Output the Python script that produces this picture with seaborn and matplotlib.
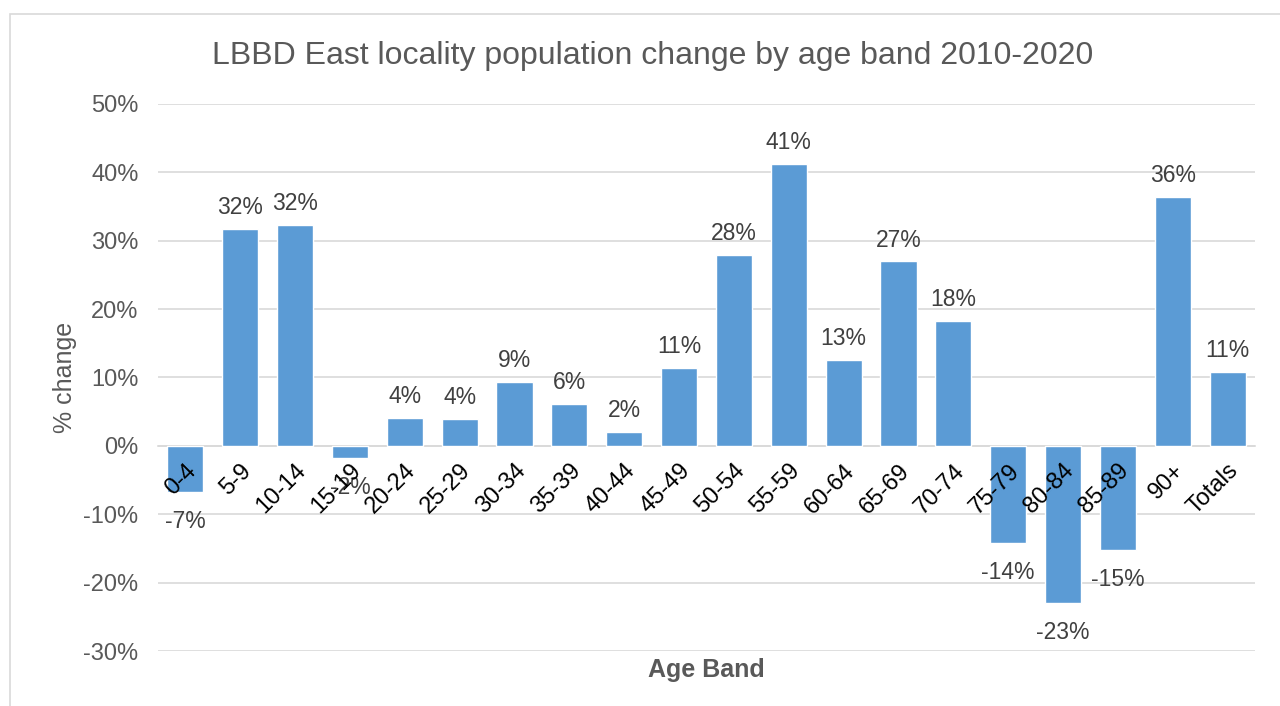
import matplotlib
matplotlib.use("Agg")
import matplotlib.pyplot as plt
import seaborn as sns
import pandas as pd
from matplotlib.patches import Rectangle
from matplotlib.ticker import MultipleLocator, FuncFormatter

# Age bands and % population change 2010-2020
bands = ["0-4", "5-9", "10-14", "15-19", "20-24", "25-29", "30-34", "35-39",
         "40-44", "45-49", "50-54", "55-59", "60-64", "65-69", "70-74",
         "75-79", "80-84", "85-89", "90+", "Totals"]
change = [-0.067, 0.317, 0.323, -0.018, 0.041, 0.039, 0.094, 0.061,
          0.020, 0.114, 0.279, 0.412, 0.126, 0.270, 0.183,
          -0.142, -0.230, -0.152, 0.364, 0.108]

df = pd.DataFrame({"band": bands, "change": change})

sns.set_theme(style="white")
plt.rcParams["font.family"] = ["Liberation Sans", "DejaVu Sans"]

fig = plt.figure(figsize=(12.8, 7.06), dpi=100)
ax = fig.add_axes([0.1234, 0.0779, 0.8571, 0.7748])

# chart border like the Excel chart area
fig.patches.append(Rectangle((10 / 1280, -0.1), 1.2, 1 - 14 / 706 + 0.1,
                             transform=fig.transFigure, fill=False,
                             edgecolor="#D9D9D9", linewidth=1.2))

sns.barplot(data=df, x="band", y="change", order=bands, color="#5B9BD5",
            saturation=1, width=0.66, ax=ax, zorder=2)

ax.set_ylim(-0.30, 0.50)
ax.set_xlim(-0.5, len(bands) - 0.5)
ax.yaxis.set_major_locator(MultipleLocator(0.10))
ax.yaxis.set_major_formatter(FuncFormatter(lambda v, p: f"{v:.0%}"))
ax.grid(axis="y", color="#D9D9D9", linewidth=1.2)
for s in ["top", "right", "left"]:
    ax.spines[s].set_visible(False)
ax.spines["bottom"].set_position(("data", 0))
ax.spines["bottom"].set_color("#D9D9D9")
ax.spines["bottom"].set_linewidth(1.2)
ax.spines["bottom"].set_zorder(1.5)
# grid behind the bars, category labels on top of them
ax.yaxis.set_zorder(0.5)
ax.xaxis.set_zorder(5)

ax.tick_params(axis="y", labelsize=17, labelcolor="#595959", length=0, pad=14)
ax.tick_params(axis="x", labelsize=17, labelcolor="black", length=0, pad=10)
for lbl in ax.get_xticklabels():
    lbl.set_rotation(45)
    lbl.set_ha("right")
    lbl.set_va("top")
    lbl.set_rotation_mode("anchor")

# data labels
for i, v in enumerate(change):
    ax.annotate(f"{v:.0%}", (i, v), xytext=(0, 7 if v >= 0 else -13),
                textcoords="offset points", ha="center",
                va="bottom" if v >= 0 else "top",
                fontsize=16.5, color="#404040", zorder=4)

ax.set_xlabel("Age Band", fontsize=18, fontweight="bold", color="#595959")
ax.xaxis.set_label_coords(0.5, -0.012)
ax.set_ylabel("% change", fontsize=18, color="#595959")
ax.yaxis.set_label_coords(-0.074, 0.5)

fig.text(0.51, 1 - 56 / 706,
         "LBBD East locality population change by age band 2010-2020",
         ha="center", va="center", fontsize=23, color="#595959")

fig.savefig("out.png", dpi=100)
